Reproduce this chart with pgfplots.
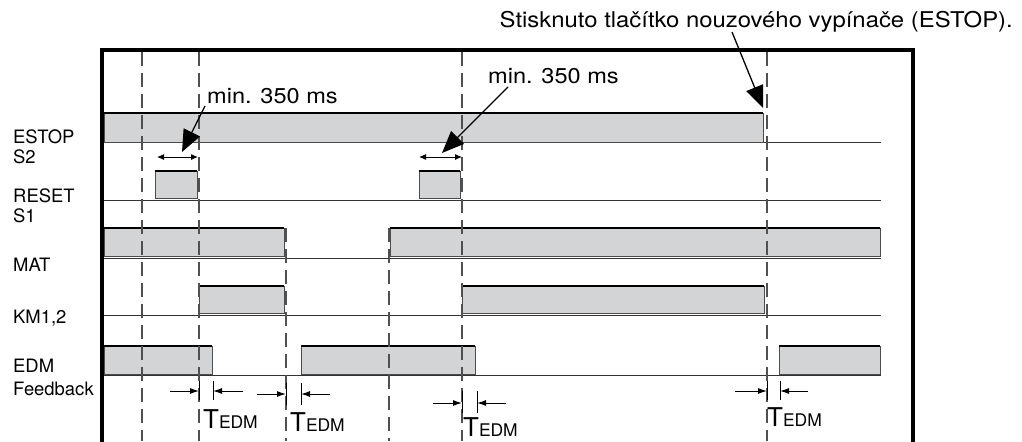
\documentclass[border=0pt]{standalone}
\usepackage{pgfplots}
\pgfplotsset{compat=1.18}
\usepackage{fontspec}
\setmainfont{TeX Gyre Heros}
\usetikzlibrary{arrows.meta}
\definecolor{barfill}{RGB}{211,212,214}
\definecolor{dashc}{RGB}{80,80,80}
\tikzset{
  sbar/.style={fill=barfill, draw=black!70, line width=0.9bp},
  stop/.style={black, line width=2.6bp},
  sbase/.style={black!80, line width=1bp},
  sdsh/.style={dashc, line width=1.8bp, dash pattern=on 14bp off 7bp},
  slbl/.style={anchor=base west, inner sep=0pt, font=\fontsize{18.5}{22}\selectfont},
  sbig/.style={inner sep=0pt, font=\fontsize{21.5}{26}\selectfont, xscale=1.1},
  sbigarrow/.style={black, line width=1.3bp, -{Triangle[length=22bp,width=18bp]}},
  sdbl/.style={black, line width=1bp, {Latex[length=7bp,width=6bp]}-{Latex[length=7bp,width=6bp]}},
  starr/.style={black, line width=1bp, -{Latex[length=9bp,width=6bp]}},
  stk/.style={black, line width=1bp},
  stedm/.style={anchor=base west, inner sep=0pt},
}
\newcommand{\tedm}{{\fontsize{26}{26}\selectfont T}{\fontsize{17.5}{18}\selectfont EDM}}
\begin{document}
\begin{tikzpicture}
\begin{axis}[scale only axis, width=1022bp, height=441bp,
  xmin=0, xmax=1022, ymin=0, ymax=441, y dir=reverse, axis lines=none]
% invisible extent
\addplot[draw=none] coordinates {(0,0) (1022,441)};
% baselines
\addplot[sbase] coordinates {(100,142) (881,142)};
\addplot[sbase] coordinates {(100,200) (881,200)};
\addplot[sbase] coordinates {(100,258) (881,258)};
\addplot[sbase] coordinates {(100,315) (881,315)};
\addplot[sbase] coordinates {(100,375) (881,375)};
% ESTOP
\addplot[sbar] coordinates {(104,142) (104,113) (763,113) (763,142)} -- cycle;
\addplot[stop] coordinates {(104,113) (763,113)};
% RESET
\addplot[sbar] coordinates {(155,198) (155,171) (197,171) (197,198)} -- cycle;
\addplot[stop] coordinates {(155,171) (197,171)};
\addplot[sbar] coordinates {(419,198) (419,171) (460,171) (460,198)} -- cycle;
\addplot[stop] coordinates {(419,171) (460,171)};
% MAT
\addplot[sbar] coordinates {(104,256) (104,228) (284,228) (284,256)} -- cycle;
\addplot[stop] coordinates {(104,228) (284,228)};
\addplot[sbar] coordinates {(390,256) (390,228) (880,228) (880,256)} -- cycle;
\addplot[stop] coordinates {(390,228) (880,228)};
% KM1,2
\addplot[sbar] coordinates {(199,313) (199,286) (284,286) (284,313)} -- cycle;
\addplot[stop] coordinates {(199,286) (284,286)};
\addplot[sbar] coordinates {(462,313) (462,286) (764,286) (764,313)} -- cycle;
\addplot[stop] coordinates {(462,286) (764,286)};
% EDM
\addplot[sbar] coordinates {(104,374) (104,346) (212,346) (212,374)} -- cycle;
\addplot[stop] coordinates {(104,346) (212,346)};
\addplot[sbar] coordinates {(301,374) (301,346) (475,346) (475,374)} -- cycle;
\addplot[stop] coordinates {(301,346) (475,346)};
\addplot[sbar] coordinates {(779,374) (779,346) (880,346) (880,374)} -- cycle;
\addplot[stop] coordinates {(779,346) (880,346)};
% frame
\addplot[black, line width=3.5bp] coordinates {(102,450) (102,50) (913,50) (913,450)};
% dashed lines
\addplot[sdsh] coordinates {(142,52) (142,441)};
\addplot[sdsh] coordinates {(199,52) (199,441)};
\addplot[sdsh] coordinates {(462,52) (462,441)};
\addplot[sdsh] coordinates {(767,52) (767,441)};
\addplot[sdsh] coordinates {(286,228) (286,441)};
\addplot[sdsh] coordinates {(389,228) (389,441)};
% min 350 ms
\addplot[sdbl] coordinates {(157,157) (198,157)};
\addplot[sdbl] coordinates {(419,157) (462,157)};
\addplot[sbigarrow] coordinates {(205,106) (182,152)};
\addplot[sbigarrow] coordinates {(508,87) (442,153)};
\addplot[sbigarrow] coordinates {(732,32) (763,108)};
% TEDM arrows
\addplot[starr] coordinates {(170,391) (199,391)};
\addplot[starr] coordinates {(243,391) (213,391)};
\addplot[stk] coordinates {(213,381) (213,400)};
\addplot[stk] coordinates {(199,381) (199,400)};
\addplot[starr] coordinates {(257,394) (286,394)};
\addplot[starr] coordinates {(330,394) (301,394)};
\addplot[stk] coordinates {(301,383) (301,405)};
\addplot[stk] coordinates {(286,383) (286,405)};
\addplot[starr] coordinates {(433,403) (462,403)};
\addplot[starr] coordinates {(506,403) (477,403)};
\addplot[stk] coordinates {(477,391) (477,413)};
\addplot[stk] coordinates {(462,391) (462,413)};
\addplot[starr] coordinates {(735,391) (767,391)};
\addplot[starr] coordinates {(808,391) (780,391)};
\addplot[stk] coordinates {(780,381) (780,400)};
\addplot[stk] coordinates {(767,381) (767,400)};
% texts
\node[slbl] at (axis cs:13,143) {ESTOP};
\node[slbl] at (axis cs:13,163) {S2};
\node[slbl] at (axis cs:13,202) {RESET};
\node[slbl] at (axis cs:13,222) {S1};
\node[slbl] at (axis cs:13,271) {MAT};
\node[slbl] at (axis cs:13,323) {KM1,2};
\node[slbl] at (axis cs:13,372) {EDM};
\node[slbl] at (axis cs:13,395) {Feedback};
\node[sbig, anchor=base west] at (axis cs:207,103) {min. 350 ms};
\node[sbig, anchor=base west] at (axis cs:488,84) {min. 350 ms};
\node[sbig, anchor=base east, font=\fontsize{21.8}{26}\selectfont] at (axis cs:1013,28) {Stisknuto tlačítko nouzového vypínače (ESTOP).};
\node[stedm] at (axis cs:203,428) {\tedm};
\node[stedm] at (axis cs:290,431) {\tedm};
\node[stedm] at (axis cs:463,436) {\tedm};
\node[stedm] at (axis cs:767,426) {\tedm};
\end{axis}
\end{tikzpicture}
\end{document}
